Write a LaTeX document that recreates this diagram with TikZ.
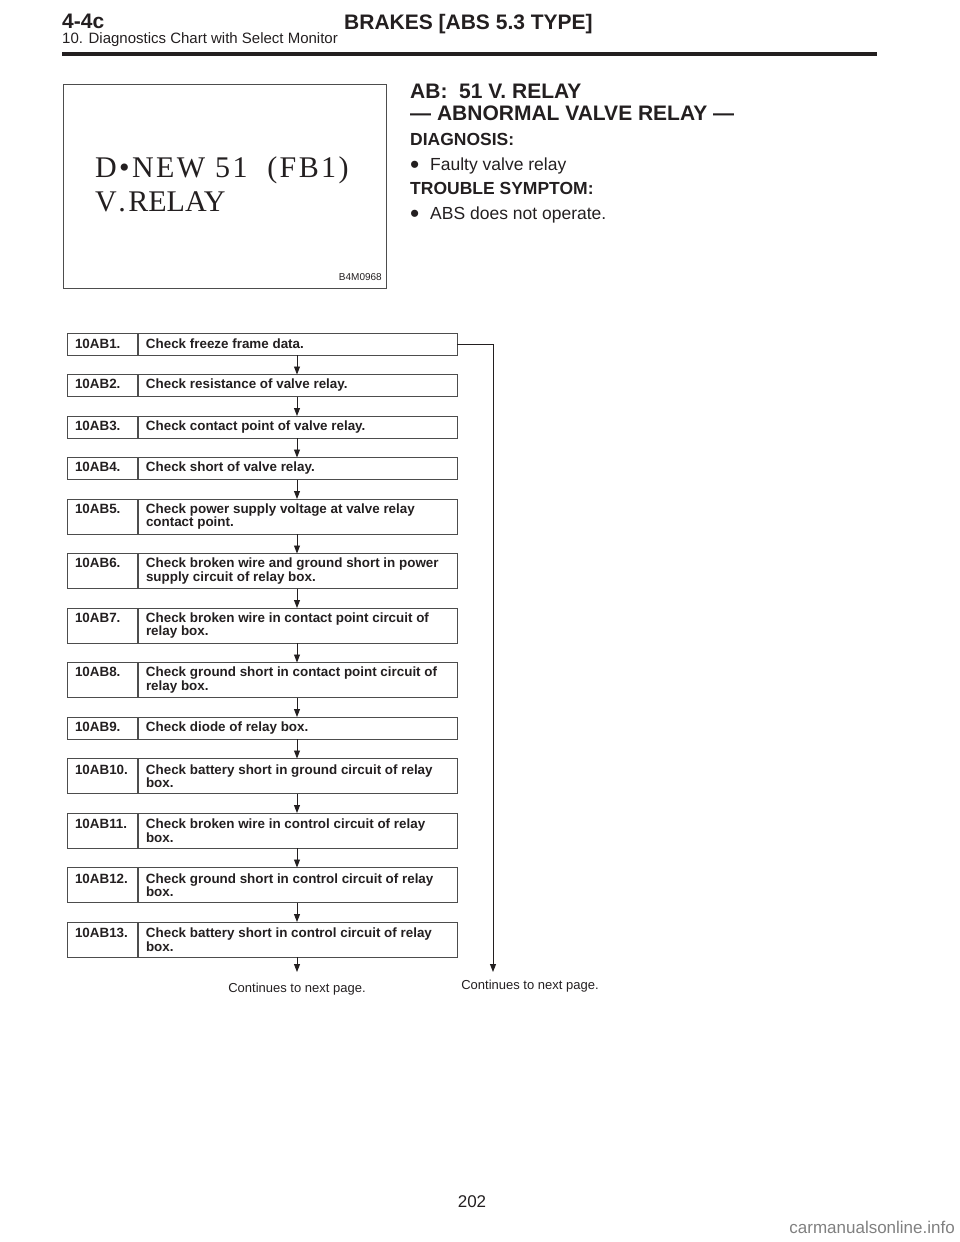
\documentclass[tikz,border=0pt]{standalone}
\usepackage{fontspec}
\setmainfont{Liberation Sans}
\newfontfamily\imgfont{Liberation Serif}
\usetikzlibrary{positioning,arrows.meta}

\definecolor{ink}{HTML}{231F20}
\definecolor{rulegray}{HTML}{4D4D4D}

% one row of a step box: number column and text column
\newcommand{\steprow}[2]{\parbox[t]{71pt}{#1}\parbox[t]{303pt}{#2}}
% large list bullet
\newcommand{\bigdot}{\makebox[20pt][l]{\raisebox{-3pt}{\scalebox{1.5}{\textbullet}}}}

\begin{document}
\begin{tikzpicture}[x=1pt, y=-1pt, ink,
    txt/.style={inner sep=0pt, anchor=base west},
    note/.style={inner sep=0pt, font=\fontsize{13}{13}\selectfont},
    stepbox/.style={draw=rulegray, line width=0.9pt, minimum width=390pt,
      minimum height=22pt, inner xsep=8pt, inner ysep=0pt, outer sep=0pt,
      font=\fontsize{13.4}{10.5}\selectfont\bfseries,
      path picture={\draw[rulegray, line width=1.5pt]
        ([xshift=71pt]path picture bounding box.north west) --
        ([xshift=71pt]path picture bounding box.south west);}},
    stepboxtwo/.style={stepbox, minimum height=35pt},
    flow/.style={draw=ink, line width=0.9pt, -{Triangle[length=8pt, width=6pt]}},
    node distance=19.5pt,
  ]
  \useasboundingbox (0,0) rectangle (960,1242);

  % Page header
  \node[txt, font=\fontsize{21}{21}\selectfont\bfseries] (sec) at (62,28.5) {4-4c};
  \node[txt, font=\fontsize{21}{21}\selectfont\bfseries] (title) at (344,29) {BRAKES [ABS 5.3 TYPE]};
  \node[txt, font=\fontsize{15}{15}\selectfont] (sub) at (62,43) {10. Diagnostics Chart with Select Monitor};
  \draw[line width=4pt] (62,53.7) -- (877,53.7);

  % Monitor screen picture
  \draw[rulegray, line width=0.8pt] (63,84) rectangle (386,288);
  \node[txt, font=\imgfont\fontsize{30}{30}\selectfont\addfontfeatures{LetterSpace=8}] (scr1) at (95,177) {D•NEW 51\ \ (FB1)};
  \node[txt, font=\imgfont\fontsize{30}{30}\selectfont] (scr2) at (95,211) {V\kern1.5pt.\kern2.5pt RELAY};
  \node[txt, anchor=base east, font=\fontsize{10}{10}\selectfont] (fig) at (382,280) {B4M0968};

  % Heading and diagnosis
  \node[txt, font=\fontsize{21}{21}\selectfont\bfseries] (code) at (410,98) {AB:\ \ 51 V. RELAY};
  \node[txt, font=\fontsize{21}{21}\selectfont\bfseries] (name) at (410,120) {— ABNORMAL VALVE RELAY —};
  \node[txt, font=\fontsize{17.5}{17.5}\selectfont\bfseries] (diag) at (410,145) {DIAGNOSIS:};
  \node[txt, font=\fontsize{17.5}{17.5}\selectfont] (diag1) at (410,170) {\bigdot Faulty valve relay};
  \node[txt, font=\fontsize{17.5}{17.5}\selectfont\bfseries] (symp) at (410,194) {TROUBLE SYMPTOM:};
  \node[txt, font=\fontsize{17.5}{17.5}\selectfont] (symp1) at (410,219) {\bigdot ABS does not operate.};

  % Check steps
  \node[stepbox, anchor=north west] (b1) at (67,333) {\steprow{10AB1.}{Check freeze frame data.}};
  \node[stepbox, below=of b1] (b2) {\steprow{10AB2.}{Check resistance of valve relay.}};
  \node[stepbox, below=of b2] (b3) {\steprow{10AB3.}{Check contact point of valve relay.}};
  \node[stepbox, below=of b3] (b4) {\steprow{10AB4.}{Check short of valve relay.}};
  \node[stepboxtwo, below=of b4] (b5) {\steprow{10AB5.}{Check power supply voltage at valve relay\\contact point.}};
  \node[stepboxtwo, below=of b5] (b6) {\steprow{10AB6.}{Check broken wire and ground short in power\\supply circuit of relay box.}};
  \node[stepboxtwo, below=of b6] (b7) {\steprow{10AB7.}{Check broken wire in contact point circuit of\\relay box.}};
  \node[stepboxtwo, below=of b7] (b8) {\steprow{10AB8.}{Check ground short in contact point circuit of\\relay box.}};
  \node[stepbox, below=of b8] (b9) {\steprow{10AB9.}{Check diode of relay box.}};
  \node[stepboxtwo, below=of b9] (b10) {\steprow{10AB10.}{Check battery short in ground circuit of relay\\box.}};
  \node[stepboxtwo, below=of b10] (b11) {\steprow{10AB11.}{Check broken wire in control circuit of relay\\box.}};
  \node[stepboxtwo, below=of b11] (b12) {\steprow{10AB12.}{Check ground short in control circuit of relay\\box.}};
  \node[stepboxtwo, below=of b12] (b13) {\steprow{10AB13.}{Check battery short in control circuit of relay\\box.}};

  % Arrows between steps
  \draw[flow] ([xshift=35pt]b1.south) -- ([xshift=35pt]b2.north);
  \draw[flow] ([xshift=35pt]b2.south) -- ([xshift=35pt]b3.north);
  \draw[flow] ([xshift=35pt]b3.south) -- ([xshift=35pt]b4.north);
  \draw[flow] ([xshift=35pt]b4.south) -- ([xshift=35pt]b5.north);
  \draw[flow] ([xshift=35pt]b5.south) -- ([xshift=35pt]b6.north);
  \draw[flow] ([xshift=35pt]b6.south) -- ([xshift=35pt]b7.north);
  \draw[flow] ([xshift=35pt]b7.south) -- ([xshift=35pt]b8.north);
  \draw[flow] ([xshift=35pt]b8.south) -- ([xshift=35pt]b9.north);
  \draw[flow] ([xshift=35pt]b9.south) -- ([xshift=35pt]b10.north);
  \draw[flow] ([xshift=35pt]b10.south) -- ([xshift=35pt]b11.north);
  \draw[flow] ([xshift=35pt]b11.south) -- ([xshift=35pt]b12.north);
  \draw[flow] ([xshift=35pt]b12.south) -- ([xshift=35pt]b13.north);

  % Exits to next page
  \coordinate (endl) at ([xshift=35pt, yshift=-15pt]b13.south);
  \draw[flow] ([xshift=35pt]b13.south) -- (endl);
  \node[note, below=11pt of endl] (nextl) {Continues to next page.};
  \coordinate (endr) at (493,972);
  \draw[flow] (b1.east) -| (endr);
  \node[note, anchor=north] (nextr) at ([xshift=37pt, yshift=-8pt]endr) {Continues to next page.};

  % Page footer
  \node[inner sep=0pt, anchor=base, font=\fontsize{17}{17}\selectfont] (page) at (472,1207) {202};
  \node[inner sep=0pt, anchor=base east, font=\fontsize{17}{17}\selectfont, gray] (mark) at (955,1233) {carmanualsonline.info};
\end{tikzpicture}
\end{document}
